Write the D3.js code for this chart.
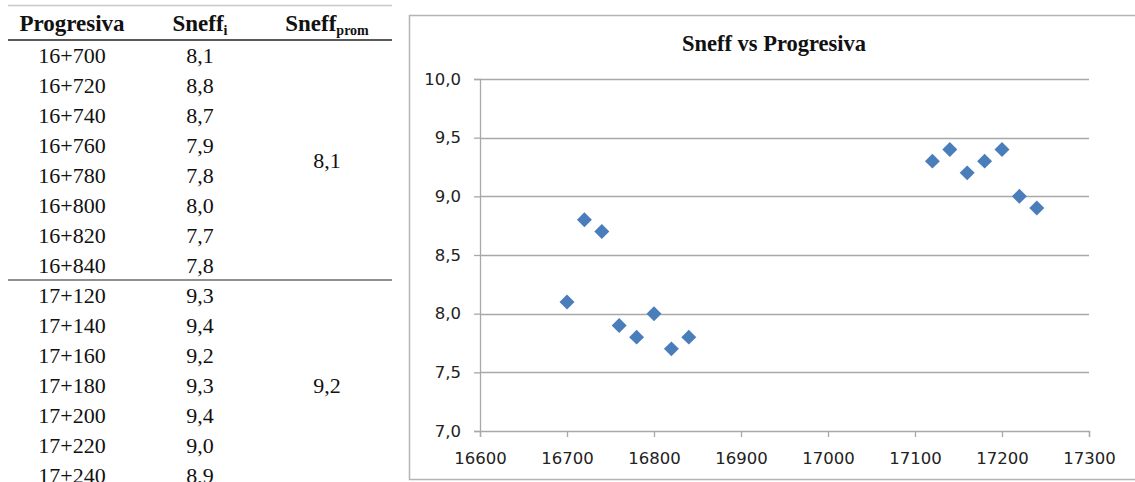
<!DOCTYPE html>
<html><head><meta charset="utf-8">
<script src="https://cdn.jsdelivr.net/npm/d3@7"></script>
<style>html,body{margin:0;padding:0;background:#fff;}svg{display:block;}</style>
</head><body>
<svg id="c" width="1135" height="482"></svg>
<script>
// ---- data ----
const progresivaLabels = ["16+700","16+720","16+740","16+760","16+780","16+800","16+820","16+840",
                          "17+120","17+140","17+160","17+180","17+200","17+220","17+240"];
const progresiva = [16700,16720,16740,16760,16780,16800,16820,16840,17120,17140,17160,17180,17200,17220,17240];
const sneff = [8.1,8.8,8.7,7.9,7.8,8.0,7.7,7.8,9.3,9.4,9.2,9.3,9.4,9.0,8.9];
const groupSizes = [8,7];
const sneffProm = [8.1,9.2];
const xTicks = [16600,16700,16800,16900,17000,17100,17200,17300];
const yTicks = [7.0,7.5,8.0,8.5,9.0,9.5,10.0];
const chartTitle = "Sneff vs Progresiva";

const svg = d3.select("#c");
const loc = d3.formatLocale({decimal:",",thousands:"",grouping:[3],currency:["",""]});
const f1 = loc.format(".1f");

// ---- table ----
const serif = "'Liberation Serif','Times New Roman',serif";
const colX = [72, 200, 327];
const tg = svg.append("g").attr("font-family", serif).attr("fill","#111");
tg.append("line").attr("x1",8).attr("x2",392).attr("y1",5.5).attr("y2",5.5).attr("stroke","#c8c8c8").attr("stroke-width",1.5);
const hdr = tg.append("g").attr("font-weight","bold").attr("font-size",23).attr("text-anchor","middle");
hdr.append("text").attr("x",colX[0]).attr("y",31).text("Progresiva");
const h2 = hdr.append("text").attr("x",colX[1]).attr("y",31);
h2.append("tspan").text("Sneff");
h2.append("tspan").attr("font-size",14).attr("dy",4).text("i");
const h3 = hdr.append("text").attr("x",colX[2]).attr("y",31);
h3.append("tspan").text("Sneff");
h3.append("tspan").attr("font-size",14).attr("dy",4).text("prom");
tg.append("line").attr("x1",8).attr("x2",392).attr("y1",40).attr("y2",40).attr("stroke","#222").attr("stroke-width",1.6);

const rowH = 30, firstBase = 62.5;
const body = tg.append("g").attr("font-size",22).attr("text-anchor","middle");
progresivaLabels.forEach((lab,i)=>{
  const y = firstBase + i*rowH;
  body.append("text").attr("x",colX[0]).attr("y",y).text(lab);
  body.append("text").attr("x",colX[1]).attr("y",y).text(f1(sneff[i]));
});
let start = 0;
groupSizes.forEach((n,g)=>{
  const yMid = firstBase + (start + (n-1)/2)*rowH;
  body.append("text").attr("x",colX[2]).attr("y",yMid).text(f1(sneffProm[g]));
  start += n;
  if (g < groupSizes.length-1) {
    const ly = firstBase + (start-1)*rowH + 7.5;
    tg.append("line").attr("x1",8).attr("x2",392).attr("y1",ly).attr("y2",ly).attr("stroke","#222").attr("stroke-width",1.2);
  }
});

// ---- chart ----
svg.append("rect").attr("x",409.5).attr("y",15.5).attr("width",760).attr("height",464)
  .attr("fill","#fff").attr("stroke","#b4b4b4").attr("stroke-width",1.5);
const x = d3.scaleLinear().domain([16600,17300]).range([480,1089]);
const y = d3.scaleLinear().domain([7,10]).range([431,79]);
const gridCol = "#a8a8a8";
const sans = "'DejaVu Sans',Verdana,sans-serif";

svg.append("g").selectAll("line").data(yTicks.filter(d=>d>7)).join("line")
  .attr("x1",x(16600)).attr("x2",x(17300)).attr("y1",d=>Math.round(y(d))+0.5).attr("y2",d=>Math.round(y(d))+0.5)
  .attr("stroke",gridCol).attr("stroke-width",1.3);

const yAxis = svg.append("g").attr("transform",`translate(${x(16600)},0)`)
  .call(d3.axisLeft(y).tickValues(yTicks).tickFormat(f1).tickSize(6).tickPadding(13));
const xAxis = svg.append("g").attr("transform",`translate(0,${y(7)})`)
  .call(d3.axisBottom(x).tickValues(xTicks).tickFormat(d3.format("d")).tickSize(6).tickPadding(15));
[yAxis,xAxis].forEach(a=>{
  a.select(".domain").attr("stroke",gridCol).attr("stroke-width",1.3);
  a.selectAll(".tick line").attr("stroke",gridCol).attr("stroke-width",1.3);
  a.selectAll(".tick text").attr("font-family",sans).attr("font-size",16.5).attr("fill","#222");
});

svg.append("text").attr("x",774).attr("y",51).attr("text-anchor","middle")
  .attr("font-family",serif).attr("font-weight","bold").attr("font-size",22.5).attr("fill","#111")
  .text(chartTitle);

const pts = progresiva.map((p,i)=>({p, s:sneff[i]}));
svg.append("g").selectAll("path").data(pts).join("path")
  .attr("d", d3.symbol().type(d3.symbolSquare).size(112))
  .attr("transform", d=>`translate(${x(d.p)},${y(d.s)}) rotate(45)`)
  .attr("fill","#4a7ebb");
</script>
</body></html>
